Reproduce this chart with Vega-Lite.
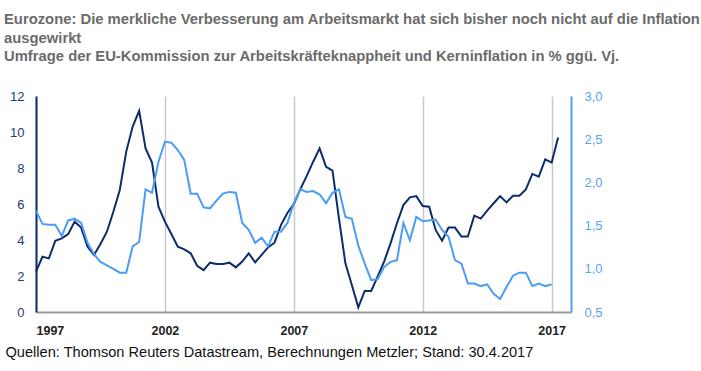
{
  "$schema": "https://vega.github.io/schema/vega-lite/v6.json",
  "autosize": "none",
  "width": 535,
  "height": 216,
  "padding": {"left": 36, "top": 96, "right": 130, "bottom": 59},
  "background": "white",
  "config": {"view": {"stroke": null}, "font": "Liberation Sans"},
  "title": {
    "text": ["Eurozone: Die merkliche Verbesserung am Arbeitsmarkt hat sich bisher noch nicht auf die Inflation", "ausgewirkt", "Umfrage der EU-Kommission zur Arbeitskräfteknappheit und Kerninflation in % ggü. Vj."],
    "anchor": "start",
    "frame": "group",
    "dx": -32,
    "offset": 26,
    "fontSize": 14.8,
    "fontWeight": "bold",
    "color": "#6b6b6b",
    "font": "Liberation Sans",
    "lineHeight": 18.5
  },
  "data": {
    "values": [
      {"Jahr": 1997.00, "Knappheit": 2.24, "Kerninflation": 1.67},
      {"Jahr": 1997.25, "Knappheit": 3.07, "Kerninflation": 1.52},
      {"Jahr": 1997.50, "Knappheit": 2.98, "Kerninflation": 1.51},
      {"Jahr": 1997.75, "Knappheit": 3.96, "Kerninflation": 1.51},
      {"Jahr": 1998.00, "Knappheit": 4.09, "Kerninflation": 1.38},
      {"Jahr": 1998.25, "Knappheit": 4.33, "Kerninflation": 1.56},
      {"Jahr": 1998.50, "Knappheit": 5.02, "Kerninflation": 1.58},
      {"Jahr": 1998.75, "Knappheit": 4.69, "Kerninflation": 1.53},
      {"Jahr": 1999.00, "Knappheit": 3.63, "Kerninflation": 1.30},
      {"Jahr": 1999.25, "Knappheit": 3.17, "Kerninflation": 1.17},
      {"Jahr": 1999.50, "Knappheit": 3.78, "Kerninflation": 1.08},
      {"Jahr": 1999.75, "Knappheit": 4.46, "Kerninflation": 1.04},
      {"Jahr": 2000.00, "Knappheit": 5.57, "Kerninflation": 1.00},
      {"Jahr": 2000.25, "Knappheit": 6.78, "Kerninflation": 0.955},
      {"Jahr": 2000.50, "Knappheit": 8.91, "Kerninflation": 0.955},
      {"Jahr": 2000.75, "Knappheit": 10.3, "Kerninflation": 1.26},
      {"Jahr": 2001.00, "Knappheit": 11.18, "Kerninflation": 1.31},
      {"Jahr": 2001.25, "Knappheit": 9.09, "Kerninflation": 1.92},
      {"Jahr": 2001.50, "Knappheit": 8.3, "Kerninflation": 1.88},
      {"Jahr": 2001.75, "Knappheit": 5.85, "Kerninflation": 2.24},
      {"Jahr": 2002.00, "Knappheit": 5.02, "Kerninflation": 2.47},
      {"Jahr": 2002.25, "Knappheit": 4.33, "Kerninflation": 2.46},
      {"Jahr": 2002.50, "Knappheit": 3.63, "Kerninflation": 2.375},
      {"Jahr": 2002.75, "Knappheit": 3.48, "Kerninflation": 2.26},
      {"Jahr": 2003.00, "Knappheit": 3.26, "Kerninflation": 1.87},
      {"Jahr": 2003.25, "Knappheit": 2.57, "Kerninflation": 1.87},
      {"Jahr": 2003.50, "Knappheit": 2.33, "Kerninflation": 1.71},
      {"Jahr": 2003.75, "Knappheit": 2.74, "Kerninflation": 1.70},
      {"Jahr": 2004.00, "Knappheit": 2.67, "Kerninflation": 1.79},
      {"Jahr": 2004.25, "Knappheit": 2.67, "Kerninflation": 1.87},
      {"Jahr": 2004.50, "Knappheit": 2.74, "Kerninflation": 1.89},
      {"Jahr": 2004.75, "Knappheit": 2.48, "Kerninflation": 1.88},
      {"Jahr": 2005.00, "Knappheit": 2.8, "Kerninflation": 1.53},
      {"Jahr": 2005.25, "Knappheit": 3.26, "Kerninflation": 1.45},
      {"Jahr": 2005.50, "Knappheit": 2.76, "Kerninflation": 1.30},
      {"Jahr": 2005.75, "Knappheit": 3.17, "Kerninflation": 1.36},
      {"Jahr": 2006.00, "Knappheit": 3.59, "Kerninflation": 1.26},
      {"Jahr": 2006.25, "Knappheit": 3.85, "Kerninflation": 1.43},
      {"Jahr": 2006.50, "Knappheit": 4.83, "Kerninflation": 1.43},
      {"Jahr": 2006.75, "Knappheit": 5.5, "Kerninflation": 1.53},
      {"Jahr": 2007.00, "Knappheit": 6.0, "Kerninflation": 1.76},
      {"Jahr": 2007.25, "Knappheit": 6.81, "Kerninflation": 1.92},
      {"Jahr": 2007.50, "Knappheit": 7.56, "Kerninflation": 1.89},
      {"Jahr": 2007.75, "Knappheit": 8.35, "Kerninflation": 1.90},
      {"Jahr": 2008.00, "Knappheit": 9.09, "Kerninflation": 1.86},
      {"Jahr": 2008.25, "Knappheit": 8.07, "Kerninflation": 1.76},
      {"Jahr": 2008.50, "Knappheit": 7.85, "Kerninflation": 1.88},
      {"Jahr": 2008.75, "Knappheit": 5.2, "Kerninflation": 1.92},
      {"Jahr": 2009.00, "Knappheit": 2.7, "Kerninflation": 1.60},
      {"Jahr": 2009.25, "Knappheit": 1.5, "Kerninflation": 1.58},
      {"Jahr": 2009.50, "Knappheit": 0.26, "Kerninflation": 1.27},
      {"Jahr": 2009.75, "Knappheit": 1.17, "Kerninflation": 1.06},
      {"Jahr": 2010.00, "Knappheit": 1.17, "Kerninflation": 0.87},
      {"Jahr": 2010.25, "Knappheit": 1.96, "Kerninflation": 0.88},
      {"Jahr": 2010.50, "Knappheit": 2.8, "Kerninflation": 1.02},
      {"Jahr": 2010.75, "Knappheit": 3.81, "Kerninflation": 1.08},
      {"Jahr": 2011.00, "Knappheit": 4.93, "Kerninflation": 1.10},
      {"Jahr": 2011.25, "Knappheit": 5.94, "Kerninflation": 1.53},
      {"Jahr": 2011.50, "Knappheit": 6.37, "Kerninflation": 1.33},
      {"Jahr": 2011.75, "Knappheit": 6.44, "Kerninflation": 1.60},
      {"Jahr": 2012.00, "Knappheit": 5.89, "Kerninflation": 1.55},
      {"Jahr": 2012.25, "Knappheit": 5.85, "Kerninflation": 1.56},
      {"Jahr": 2012.50, "Knappheit": 4.56, "Kerninflation": 1.57},
      {"Jahr": 2012.75, "Knappheit": 3.96, "Kerninflation": 1.45},
      {"Jahr": 2013.00, "Knappheit": 4.69, "Kerninflation": 1.37},
      {"Jahr": 2013.25, "Knappheit": 4.69, "Kerninflation": 1.10},
      {"Jahr": 2013.50, "Knappheit": 4.19, "Kerninflation": 1.06},
      {"Jahr": 2013.75, "Knappheit": 4.19, "Kerninflation": 0.83},
      {"Jahr": 2014.00, "Knappheit": 5.35, "Kerninflation": 0.83},
      {"Jahr": 2014.25, "Knappheit": 5.19, "Kerninflation": 0.80},
      {"Jahr": 2014.50, "Knappheit": 5.63, "Kerninflation": 0.82},
      {"Jahr": 2014.75, "Knappheit": 6.04, "Kerninflation": 0.71},
      {"Jahr": 2015.00, "Knappheit": 6.44, "Kerninflation": 0.65},
      {"Jahr": 2015.25, "Knappheit": 6.09, "Kerninflation": 0.79},
      {"Jahr": 2015.50, "Knappheit": 6.46, "Kerninflation": 0.92},
      {"Jahr": 2015.75, "Knappheit": 6.46, "Kerninflation": 0.955},
      {"Jahr": 2016.00, "Knappheit": 6.81, "Kerninflation": 0.955},
      {"Jahr": 2016.25, "Knappheit": 7.67, "Kerninflation": 0.80},
      {"Jahr": 2016.50, "Knappheit": 7.52, "Kerninflation": 0.83},
      {"Jahr": 2016.75, "Knappheit": 8.48, "Kerninflation": 0.80},
      {"Jahr": 2017.00, "Knappheit": 8.3, "Kerninflation": 0.82},
      {"Jahr": 2017.25, "Knappheit": 9.7, "Kerninflation": null}
    ]
  },
  "encoding": {
    "x": {
      "field": "Jahr",
      "type": "quantitative",
      "scale": {"domain": [1997, 2017.75], "nice": false, "zero": false},
      "axis": {
        "values": [1997, 2002, 2007, 2012, 2017],
        "format": "d",
        "grid": true,
        "gridColor": "#c8c8c8",
        "gridWidth": 1.5,
        "ticks": false,
        "domainColor": "#9a9a9a",
        "domainWidth": 2,
        "labelFontSize": 12.5,
        "labelFontWeight": "bold",
        "labelColor": "#222222",
        "labelPadding": 12,
        "labelFont": "Liberation Sans",
        "title": "Quellen: Thomson Reuters Datastream, Berechnungen Metzler; Stand: 30.4.2017",
        "titleAnchor": "start",
        "titleAlign": "left",
        "titleX": -31,
        "titleY": 40,
        "titleBaseline": "middle",
        "titleFontSize": 14.6,
        "titleFontWeight": "normal",
        "titleColor": "#111111",
        "titleFont": "Liberation Sans"
      }
    }
  },
  "layer": [
    {
      "mark": {"type": "line", "color": "#0b2d6b", "strokeWidth": 2},
      "encoding": {
        "y": {
          "field": "Knappheit",
          "type": "quantitative",
          "scale": {"domain": [0, 12], "nice": false},
          "axis": {
            "orient": "left",
            "values": [0, 2, 4, 6, 8, 10, 12],
            "grid": false,
            "ticks": false,
            "domainColor": "#0b2d6b",
            "domainWidth": 2,
            "labelColor": "#1d3b78",
            "labelFontSize": 13,
            "labelPadding": 12,
            "labelFont": "Liberation Sans",
            "title": null
          }
        }
      }
    },
    {
      "mark": {"type": "line", "color": "#4b9cf5", "strokeWidth": 2},
      "encoding": {
        "y": {
          "field": "Kerninflation",
          "type": "quantitative",
          "scale": {"domain": [0.5, 3.0], "nice": false, "zero": false},
          "axis": {
            "orient": "right",
            "values": [0.5, 1.0, 1.5, 2.0, 2.5, 3.0],
            "labelExpr": "replace(format(datum.value, '.1f'), '.', ',')",
            "grid": false,
            "ticks": false,
            "domainColor": "#4b9cf5",
            "domainWidth": 2,
            "labelColor": "#5aa2f2",
            "labelFontSize": 13,
            "labelPadding": 13,
            "labelFont": "Liberation Sans",
            "title": null
          }
        }
      }
    }
  ],
  "resolve": {"scale": {"y": "independent"}}
}
